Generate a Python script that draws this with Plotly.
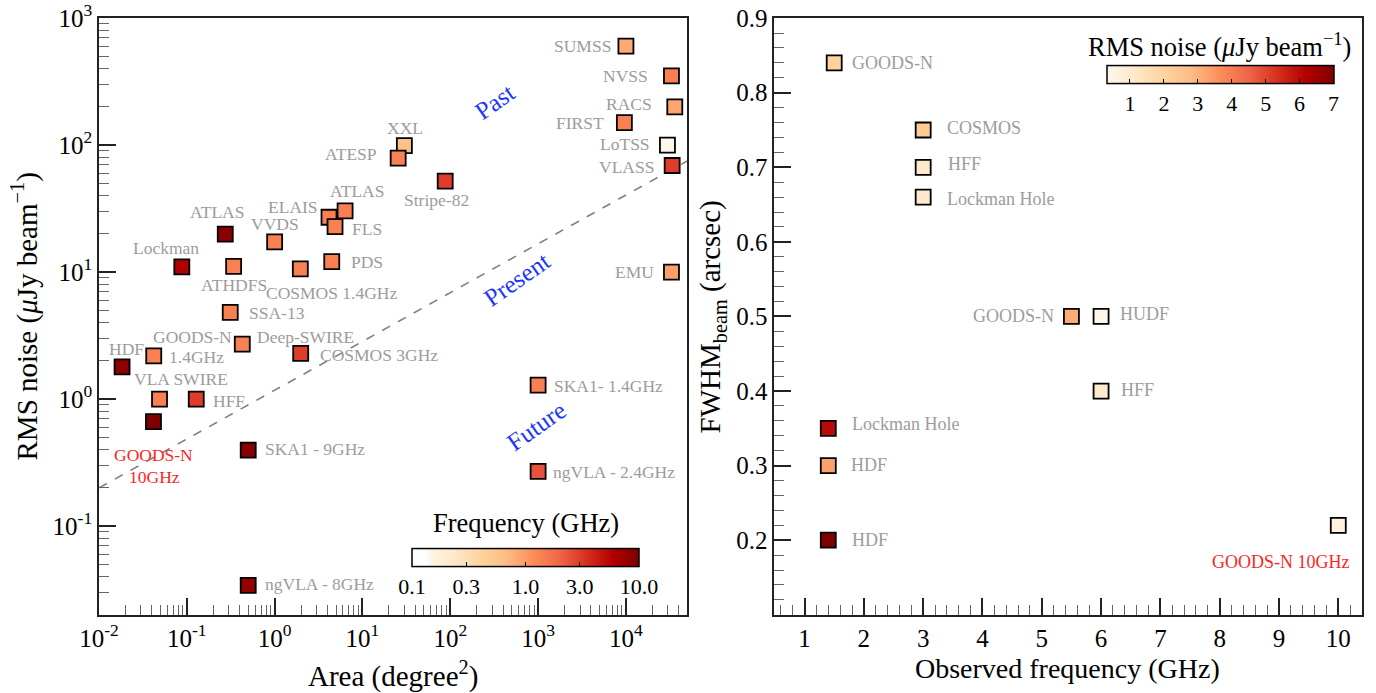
import numpy as np
import plotly.graph_objects as go

# ---------------- Left panel: survey depth vs. area ----------------
survey_names = ["SUMSS", "NVSS", "RACS", "FIRST", "LoTSS", "VLASS", "EMU",
                "XXL", "ATESP", "Stripe-82", "ATLAS", "ELAIS", "FLS", "ATLAS",
                "VVDS", "Lockman", "ATHDFS", "COSMOS 1.4GHz", "PDS", "SSA-13",
                "GOODS-N 1.4GHz", "Deep-SWIRE", "HDF", "COSMOS 3GHz",
                "VLA SWIRE", "HFF", "GOODS-N 10GHz", "SKA1 - 9GHz",
                "ngVLA - 8GHz", "SKA1- 1.4GHz", "ngVLA - 2.4GHz"]
area_deg2 = [1.0e4, 3.3e4, 3.6e4, 9.6e3, 2.97e4, 3.36e4, 3.3e4,
             30, 25.5, 87.5, 6.34, 4.16, 4.87, 0.274,
             1.0, 0.0877, 0.341, 1.96, 4.47, 0.312,
             0.042, 0.428, 0.0183, 1.98,
             0.0489, 0.128, 0.0417, 0.5,
             0.5, 1000, 1000]
rms_ujy = [600, 350, 200, 150, 100, 69, 10,
           99, 79, 52, 30.3, 27, 22.8, 19.9,
           17.3, 11.0, 11.1, 10.6, 12.1, 4.81,
           2.19, 2.71, 1.79, 2.29,
           1.0, 1.0, 0.665, 0.397,
           0.0341, 1.29, 0.27]
freq_ghz = [0.843, 1.4, 0.888, 1.4, 0.144, 3.0, 0.944,
            0.61, 1.4, 3.0, 1.4, 1.4, 1.4, 9.0,
            1.4, 6.0, 1.4, 1.4, 1.4, 1.4,
            1.4, 1.4, 8.5, 3.0,
            1.4, 3.0, 10.0, 9.0,
            8.0, 1.4, 2.4]

# dashed divider between past and future surveys
divider_area = [1e-2, 4.97e4]
divider_rms = [0.2, 74.8]

era_names = ["Past", "Present", "Future"]
era_area = [324, 572, 948]
era_rms = [219, 8.75, 0.605]

# decade ticks of the log axes
area_decades = [-2, -1, 0, 1, 2, 3, 4]
rms_decades = [-1, 0, 1, 2, 3]

# ---------------- Right panel: beam size vs. frequency ----------------
deep_names = ["GOODS-N", "COSMOS", "HFF", "Lockman Hole", "GOODS-N", "HUDF",
              "HFF", "Lockman Hole", "HDF", "HDF", "GOODS-N 10GHz"]
obs_freq = [1.5, 3.0, 3.0, 3.0, 5.5, 6.0, 6.0, 1.4, 1.4, 1.4, 10.0]
fwhm_beam = [0.84, 0.75, 0.70, 0.66, 0.50, 0.50, 0.40, 0.35, 0.30, 0.20, 0.22]
deep_rms = [2.0, 2.3, 1.1, 1.1, 3.1, 0.35, 1.0, 6.0, 3.3, 7.0, 0.67]

freq_ticks = [0.1, 0.3, 1.0, 3.0, 10.0]
freq_ticktext = ["0.1", "0.3", "1.0", "3.0", "10.0"]
rms_ticks = [1, 2, 3, 4, 5, 6, 7]

# ---------------- styling ----------------
SERIF = "Liberation Serif, Times New Roman, Times, DejaVu Serif, serif"
LABEL_GREY = "#9c9c9c"
HILITE_RED = "#ff1f1f"
ERA_BLUE = "#1a35ff"

orrd = ["#fff7ec", "#fee8c8", "#fdd49e", "#fdbb84", "#fc8d59",
        "#ef6548", "#d7301f", "#b30000", "#7f0000"]
cs_right = [[i / (len(orrd) - 1), c] for i, c in enumerate(orrd)]
w0 = 0.07
cs_left = [[0.0, "#ffffff"], [w0 * 0.999, "#ffffff"]] + \
          [[w0 + (1 - w0) * i / (len(orrd) - 1), c] for i, c in enumerate(orrd)]


def power_label(k):
    return "10<sup>%d</sup>" % k


cbar_common = dict(
    orientation="h", xanchor="center", yanchor="middle",
    len=227, lenmode="pixels", thickness=18, thicknessmode="pixels",
    outlinecolor="black", outlinewidth=1.5, xpad=0, ypad=0,
    ticks="inside", ticklen=5, tickcolor="black", tickwidth=1.2,
    tickfont=dict(family=SERIF, size=22, color="black"),
)

fig = go.Figure()

fig.add_trace(go.Scatter(
    x=divider_area, y=divider_rms, mode="lines",
    line=dict(color="#808080", width=1.6, dash="dash"),
    hoverinfo="skip", showlegend=False, xaxis="x", yaxis="y"))

fig.add_trace(go.Scatter(
    x=area_deg2, y=rms_ujy, mode="markers", text=survey_names,
    xaxis="x", yaxis="y", showlegend=False,
    marker=dict(
        symbol="square", size=15,
        color=np.log10(freq_ghz), cmin=-1, cmax=1, colorscale=cs_left,
        line=dict(color="black", width=1.8),
        colorbar=dict(x=0.3377, y=0.0636,
                      tickvals=np.log10(freq_ticks).tolist(),
                      ticktext=freq_ticktext, **cbar_common))))

fig.add_trace(go.Scatter(
    x=obs_freq, y=fwhm_beam, mode="markers", text=deep_names,
    xaxis="x2", yaxis="y2", showlegend=False,
    marker=dict(
        symbol="square", size=15,
        color=deep_rms, cmin=0.31, cmax=7.0, colorscale=cs_right,
        line=dict(color="black", width=1.8),
        colorbar=dict(x=0.8876, y=0.8729, tickvals=rms_ticks, **cbar_common))))

# ---------------- point labels ----------------
# (point index, text, anchor, x shift px, y shift px, colour)
left_labels = [
    (0, "SUMSS", "right", -13, 0, LABEL_GREY),
    (1, "NVSS", "right", -21, 0, LABEL_GREY),
    (2, "RACS", "right", -21, 3, LABEL_GREY),
    (3, "FIRST", "right", -18, 0, LABEL_GREY),
    (4, "LoTSS", "right", -15, 1, LABEL_GREY),
    (5, "VLASS", "right", -16, -1, LABEL_GREY),
    (6, "EMU", "right", -15, 0, LABEL_GREY),
    (7, "XXL", "center", 1, 18, LABEL_GREY),
    (8, "ATESP", "right", -19, 4, LABEL_GREY),
    (9, "Stripe-82", "center", -9, -19, LABEL_GREY),
    (10, "ATLAS", "center", 12, 20, LABEL_GREY),
    (11, "ELAIS", "center", -36, 10, LABEL_GREY),
    (12, "FLS", "left", 15, -2, LABEL_GREY),
    (13, "ATLAS", "center", -8, 22, LABEL_GREY),
    (14, "VVDS", "center", 0, 18, LABEL_GREY),
    (15, "Lockman", "center", -16, 19, LABEL_GREY),
    (16, "ATHDFS", "center", 0, -19, LABEL_GREY),
    (17, "COSMOS 1.4GHz", "center", 32, -24, LABEL_GREY),
    (18, "PDS", "left", 17, 0, LABEL_GREY),
    (19, "SSA-13", "left", 17, -1, LABEL_GREY),
    (20, "GOODS-N", "center", 39, 19, LABEL_GREY),
    (20, "1.4GHz", "left", 13, -1, LABEL_GREY),
    (21, "Deep-SWIRE", "left", 13, 7, LABEL_GREY),
    (22, "HDF", "center", 4, 18, LABEL_GREY),
    (23, "COSMOS 3GHz", "left", 17, -2, LABEL_GREY),
    (24, "VLA SWIRE", "center", 21, 20, LABEL_GREY),
    (25, "HFF", "left", 15, -2, LABEL_GREY),
    (26, "GOODS-N", "center", 0, -33, HILITE_RED),
    (26, "10GHz", "center", 1, -55, HILITE_RED),
    (27, "SKA1 - 9GHz", "left", 15, 1, LABEL_GREY),
    (28, "ngVLA - 8GHz", "left", 15, 1, LABEL_GREY),
    (29, "SKA1- 1.4GHz", "left", 14, -1, LABEL_GREY),
    (30, "ngVLA - 2.4GHz", "left", 13, -1, LABEL_GREY),
]

right_labels = [
    (0, "GOODS-N", "left", 16, 0, LABEL_GREY),
    (1, "COSMOS", "left", 22, 2, LABEL_GREY),
    (2, "HFF", "left", 23, 3, LABEL_GREY),
    (3, "Lockman Hole", "left", 22, -2, LABEL_GREY),
    (4, "GOODS-N", "right", -15, 0, LABEL_GREY),
    (5, "HUDF", "left", 17, 2, LABEL_GREY),
    (6, "HFF", "left", 18, 1, LABEL_GREY),
    (7, "Lockman Hole", "left", 22, 4, LABEL_GREY),
    (8, "HDF", "left", 21, 1, LABEL_GREY),
    (9, "HDF", "left", 22, 0, LABEL_GREY),
    (10, "GOODS-N 10GHz", "right", 14, -37, HILITE_RED),
]

annotations = []
for i, txt, anc, dx, dy, col in left_labels:
    annotations.append(dict(
        x=np.log10(area_deg2[i]), y=np.log10(rms_ujy[i]), xref="x", yref="y",
        text=txt, showarrow=False, xanchor=anc, yanchor="middle",
        xshift=dx, yshift=dy, font=dict(family=SERIF, size=17.5, color=col)))

for i, txt, anc, dx, dy, col in right_labels:
    annotations.append(dict(
        x=obs_freq[i], y=fwhm_beam[i], xref="x2", yref="y2",
        text=txt, showarrow=False, xanchor=anc, yanchor="middle",
        xshift=dx, yshift=dy, font=dict(family=SERIF, size=18, color=col)))

for name, a, r in zip(era_names, era_area, era_rms):
    annotations.append(dict(
        x=np.log10(a), y=np.log10(r), xref="x", yref="y", text=name,
        showarrow=False, textangle=-35, xanchor="center", yanchor="middle",
        font=dict(family=SERIF, size=25, color=ERA_BLUE)))

# axis and colour-bar titles
title_font = dict(family=SERIF, size=29, color="black")
cbar_title_font = dict(family=SERIF, size=26.5, color="black")
annotations += [
    dict(text="RMS noise (<i>μ</i>Jy beam<sup>−1</sup>)", xref="paper", yref="paper",
         x=-0.0586, y=0.5, textangle=-90, showarrow=False,
         xanchor="center", yanchor="middle", font=title_font),
    dict(text="Area (degree<sup>2</sup>)", xref="paper", yref="paper",
         x=0.2328, y=-0.1, showarrow=False,
         xanchor="center", yanchor="middle", font=title_font),
    dict(text="FWHM<sub>beam</sub> (arcsec)", xref="paper", yref="paper",
         x=0.4853, y=0.5, textangle=-90, showarrow=False,
         xanchor="center", yanchor="middle", font=title_font),
    dict(text="Observed frequency (GHz)", xref="paper", yref="paper",
         x=0.767, y=-0.089, showarrow=False,
         xanchor="center", yanchor="middle",
         font=dict(family=SERIF, size=28, color="black")),
    dict(text="Frequency (GHz)", xref="paper", yref="paper",
         x=0.3377, y=0.1534, showarrow=False,
         xanchor="center", yanchor="middle", font=cbar_title_font),
    dict(text="RMS noise (<i>μ</i>Jy beam<sup>−1</sup>)", xref="paper", yref="paper",
         x=0.8868, y=0.9547, showarrow=False,
         xanchor="center", yanchor="middle", font=cbar_title_font),
]

AX_COL = "#222222"
common = dict(showline=True, linecolor=AX_COL, linewidth=1.6, mirror=True,
              showgrid=False, zeroline=False, ticks="inside", ticklen=17,
              tickwidth=1.6, tickcolor=AX_COL,
              tickfont=dict(family=SERIF, size=25, color="black"))

log_minor = dict(ticks="inside", ticklen=10, tickwidth=1.2,
                 tickcolor="#666666", dtick="D1", showgrid=False)

fig.update_layout(
    width=1376, height=693,
    margin=dict(l=99, r=14, t=18, b=78, autoexpand=False),
    plot_bgcolor="white", paper_bgcolor="white",
    font=dict(family=SERIF, color="black"),
    xaxis=dict(type="log", range=[-2.0001, 4.696], domain=[0, 0.4656], anchor="y",
               tickmode="array",
               tickvals=[10.0 ** k for k in area_decades],
               ticktext=[power_label(k) for k in area_decades],
               minor=log_minor, **common),
    yaxis=dict(type="log", range=[-1.7, 3.0002], domain=[0, 1], anchor="x",
               tickmode="array",
               tickvals=[10.0 ** k for k in rms_decades],
               ticktext=[power_label(k) for k in rms_decades],
               minor=log_minor, **common),
    xaxis2=dict(range=[0.49, 10.4], domain=[0.5347, 1], anchor="y2",
                tickvals=list(range(1, 11)),
                minor=dict(ticks="inside", ticklen=10, tickwidth=1.2,
                           tickcolor="#666666", tick0=0, dtick=0.2, showgrid=False),
                **common),
    yaxis2=dict(range=[0.0997, 0.9002], domain=[0, 1], anchor="x2",
                tickvals=[0.2, 0.3, 0.4, 0.5, 0.6, 0.7, 0.8, 0.9],
                tickformat=".1f",
                minor=dict(ticks="inside", ticklen=10, tickwidth=1.2,
                           tickcolor="#666666", tick0=0, dtick=0.02, showgrid=False),
                **common),
    annotations=annotations,
)

fig.write_html("out.html")
